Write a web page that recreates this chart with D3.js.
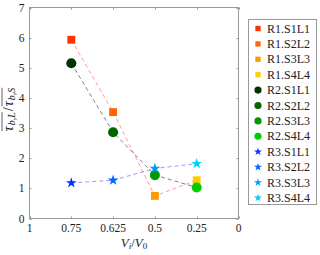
<!DOCTYPE html>
<html>
<head>
<meta charset="utf-8">
<script src="https://cdn.jsdelivr.net/npm/d3@7"></script>
<style>
  body { margin: 0; background: #fff; }
  text { font-family: "Liberation Serif", "DejaVu Serif", serif; fill: #222; }
</style>
</head>
<body>
<svg id="chart" width="320" height="255"></svg>
<script>
// categories on x (equally spaced, reversed order as in the figure)
var xTicks = ["1", "0.75", "0.625", "0.5", "0.25", "0"];
var xCats = ["0.75", "0.625", "0.5", "0.25"];
var yTicks = [0, 1, 2, 3, 4, 5, 6, 7];

var r1 = [5.93, 3.53, 0.75, 1.27];
var r2 = [5.15, 2.86, 1.44, 1.03];
var r3 = [1.18, 1.27, 1.66, 1.82];

var r1Names = ["R1.S1L1", "R1.S2L2", "R1.S3L3", "R1.S4L4"];
var r2Names = ["R2.S1L1", "R2.S2L2", "R2.S3L3", "R2.S4L4"];
var r3Names = ["R3.S1L1", "R3.S2L2", "R3.S3L3", "R3.S4L4"];

var r1Colors = ["#ff3300", "#ff6600", "#ff9900", "#ffcc00"];
var r2Colors = ["#003300", "#006600", "#009900", "#00cc00"];
var r3Colors = ["#0033ff", "#0066ff", "#0099ff", "#00ccff"];

var groups = [
  { vals: r1, names: r1Names, colors: r1Colors, shape: d3.symbolSquare, size: 62, line: "#ff9999" },
  { vals: r2, names: r2Names, colors: r2Colors, shape: d3.symbolCircle, size: 80, line: "#808080" },
  { vals: r3, names: r3Names, colors: r3Colors, shape: d3.symbolStar, size: 36, line: "#9999ff" }
];

var svg = d3.select("#chart");
var pLeft = 29.5, pRight = 238.5, pTop = 7.5, pBottom = 218.5;

var x = d3.scalePoint().domain(xTicks).range([pLeft, pRight]);
var y = d3.scaleLinear().domain([0, 7]).range([pBottom, pTop]);

// frame
svg.append("rect").attr("x", pLeft).attr("y", pTop)
  .attr("width", pRight - pLeft).attr("height", pBottom - pTop)
  .attr("fill", "none").attr("stroke", "#999").attr("stroke-width", 1);

// ticks (inward, both sides)
xTicks.forEach(function(t) {
  var px = Math.round(x(t)) + 0.5;
  svg.append("line").attr("x1", px).attr("x2", px).attr("y1", pBottom).attr("y2", pBottom - 2).attr("stroke", "#999");
  svg.append("line").attr("x1", px).attr("x2", px).attr("y1", pTop).attr("y2", pTop + 2).attr("stroke", "#999");
  svg.append("text").attr("x", x(t)).attr("y", pBottom + 13.5).attr("text-anchor", "middle")
    .attr("font-size", 11.5).text(t);
});
yTicks.forEach(function(t) {
  var py = Math.round(y(t)) + 0.5;
  svg.append("line").attr("x1", pLeft).attr("x2", pLeft + 2).attr("y1", py).attr("y2", py).attr("stroke", "#999");
  svg.append("line").attr("x1", pRight).attr("x2", pRight - 2).attr("y1", py).attr("y2", py).attr("stroke", "#999");
  svg.append("text").attr("x", pLeft - 5).attr("y", y(t) + 4).attr("text-anchor", "end")
    .attr("font-size", 11.5).text(t);
});

// x label
var xl = svg.append("text").attr("x", 134).attr("y", 246.5).attr("text-anchor", "middle").attr("font-size", 13);
xl.append("tspan").attr("font-style", "italic").text("V");
xl.append("tspan").attr("font-style", "italic").attr("font-size", 9).attr("dy", 2).text("i");
xl.append("tspan").attr("dy", -2).text("/");
xl.append("tspan").attr("font-style", "italic").text("V");
xl.append("tspan").attr("font-size", 9).attr("dy", 2).text("0");

// y label built from pieces with overlines
var yl = svg.append("g").attr("transform", "translate(13,109) rotate(-90)");
var pieces = [
  { t: "τ", fs: 14, dy: 0, it: true, ov: 0 },
  { t: "b,L", fs: 10, dy: 2, it: true, ov: 0 },
  { t: "/", fs: 14, dy: 0, it: false, ov: -1 },
  { t: "τ", fs: 14, dy: 0, it: true, ov: 1 },
  { t: "b,S", fs: 10, dy: 2, it: true, ov: 1 }
];
var cx = 0, spans = [[0, 0], [0, 0]];
pieces.forEach(function(p) {
  var el = yl.append("text").attr("x", cx).attr("y", p.dy).attr("font-size", p.fs)
    .attr("font-style", p.it ? "italic" : "normal").text(p.t);
  var w = el.node().getComputedTextLength();
  if (p.ov >= 0) {
    if (p.t === "τ") spans[p.ov][0] = cx;
    spans[p.ov][1] = cx + w;
  }
  cx += w + 1;
});
yl.selectAll("text").attr("transform", "translate(" + (-cx / 2) + ",0)");
spans.forEach(function(s) {
  yl.append("line").attr("x1", s[0] - cx / 2).attr("x2", s[1] - cx / 2)
    .attr("y1", -11).attr("y2", -11).attr("stroke", "#222").attr("stroke-width", 0.7);
});

// dashed lines
var line = d3.line().x(function(d, i) { return x(xCats[i]); }).y(function(d) { return y(d); });
groups.forEach(function(g) {
  svg.append("path").datum(g.vals).attr("d", line).attr("fill", "none")
    .attr("stroke", g.line).attr("stroke-width", 1).attr("stroke-dasharray", "4,3");
});

// markers
groups.forEach(function(g) {
  svg.selectAll(null).data(g.vals).enter().append("path")
    .attr("d", d3.symbol().type(g.shape).size(g.size))
    .attr("transform", function(d, i) { return "translate(" + x(xCats[i]) + "," + y(d) + ")"; })
    .attr("fill", function(d, i) { return g.colors[i]; });
});

// legend
var lg = svg.append("g");
lg.append("rect").attr("x", 248.5).attr("y", 19.5).attr("width", 68).attr("height", 185)
  .attr("fill", "#fff").attr("stroke", "#999");
var items = [];
groups.forEach(function(g) {
  g.names.forEach(function(n, i) { items.push({ name: n, color: g.colors[i], shape: g.shape, size: g.size }); });
});
items.forEach(function(it, i) {
  var ly = 28.5 + i * 15.4;
  var s = it.shape === d3.symbolSquare ? 28 : (it.shape === d3.symbolCircle ? 40 : 20);
  lg.append("path").attr("d", d3.symbol().type(it.shape).size(s))
    .attr("transform", "translate(258," + ly + ")").attr("fill", it.color);
  lg.append("text").attr("x", 267).attr("y", ly + 4).attr("font-size", 12).text(it.name);
});
</script>
</body>
</html>
